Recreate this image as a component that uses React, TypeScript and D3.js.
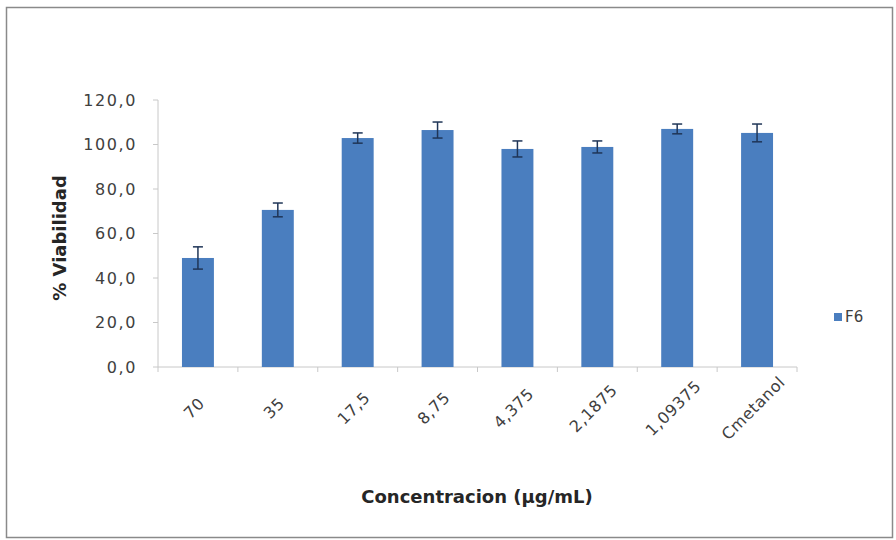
import React from "react";
import * as d3 from "d3";

const categories = ["70", "35", "17,5", "8,75", "4,375", "2,1875", "1,09375", "Cmetanol"];
const viability = [49.0, 70.6, 102.9, 106.5, 98.0, 98.9, 107.0, 105.2];
const errors = [5.0, 3.1, 2.3, 3.6, 3.6, 2.7, 2.2, 4.0];
const yTicks = [0, 20, 40, 60, 80, 100, 120];
const seriesName = "F6";

const W = 896;
const H = 540;
const plot = { left: 158, right: 797, top: 100, bottom: 367 };
const font = "'DejaVu Sans', 'Open Sans', sans-serif";
const barColor = "#4a7ebf";
const labelColor = "#404040";

export default function App() {
  const x = d3
    .scaleBand<string>()
    .domain(categories)
    .range([plot.left, plot.right])
    .paddingInner(0.6)
    .paddingOuter(0.3);
  const y = d3.scaleLinear().domain([0, 120]).range([plot.bottom, plot.top]);
  const fmt = (v: number) => v.toFixed(1).replace(".", ",");
  const step = x.step();

  return (
    <svg
      width={W}
      height={H}
      style={{ position: "absolute", left: 0, top: 0, background: "#fff" }}
      fontFamily={font}
    >
      <rect x={6.5} y={7.5} width={886} height={530} fill="#fff" stroke="#8a8a8a" strokeWidth={1.5} />

      {/* value axis */}
      <line x1={plot.left} x2={plot.left} y1={plot.top} y2={plot.bottom} stroke="#c8c8c8" />
      {yTicks.map((t) => (
        <g key={t}>
          <line x1={plot.left - 5} x2={plot.left} y1={y(t)} y2={y(t)} stroke="#c8c8c8" />
          <text
            x={plot.left - 21}
            y={y(t)}
            dy="0.36em"
            textAnchor="end"
            fontSize={16}
            letterSpacing={1.6}
            fill={labelColor}
          >
            {fmt(t)}
          </text>
        </g>
      ))}

      {/* category axis */}
      <line x1={plot.left} x2={plot.right} y1={plot.bottom} y2={plot.bottom} stroke="#c8c8c8" />
      {d3.range(categories.length + 1).map((i) => (
        <line
          key={i}
          x1={plot.left + i * step}
          x2={plot.left + i * step}
          y1={plot.bottom}
          y2={plot.bottom + 5}
          stroke="#c8c8c8"
        />
      ))}

      {/* bars */}
      {categories.map((c, i) => (
        <rect
          key={c}
          x={x(c)}
          y={y(viability[i])}
          width={x.bandwidth()}
          height={y(0) - y(viability[i])}
          fill={barColor}
        />
      ))}

      {/* error bars */}
      {categories.map((c, i) => {
        const cx = (x(c) as number) + x.bandwidth() / 2;
        const hi = y(viability[i] + errors[i]);
        const lo = y(viability[i] - errors[i]);
        return (
          <g key={c} stroke="#1f3557" strokeWidth={1.5}>
            <line x1={cx} x2={cx} y1={hi} y2={lo} />
            <line x1={cx - 5} x2={cx + 5} y1={hi} y2={hi} />
            <line x1={cx - 5} x2={cx + 5} y1={lo} y2={lo} />
          </g>
        );
      })}

      {/* category labels, rotated about their centres */}
      {categories.map((c) => {
        const cx = (x(c) as number) + x.bandwidth() / 2 - 4;
        const ty = plot.bottom + 41;
        return (
          <text
            key={c}
            x={cx}
            y={ty}
            transform={`rotate(-45 ${cx} ${ty})`}
            textAnchor="middle"
            dy="0.36em"
            fontSize={16}
            letterSpacing={0.6}
            fill={labelColor}
          >
            {c}
          </text>
        );
      })}

      {/* axis titles */}
      <text
        x={60}
        y={238}
        transform="rotate(-90 60 238)"
        textAnchor="middle"
        dy="0.36em"
        fontSize={18}
        fontWeight="bold"
        fill="#262626"
      >
        % Viabilidad
      </text>
      <text
        x={477}
        y={497}
        textAnchor="middle"
        dy="0.36em"
        fontSize={18}
        fontWeight="bold"
        fill="#262626"
      >
        Concentracion (µg/mL)
      </text>

      {/* legend */}
      <rect x={834} y={313} width={8} height={8} fill={barColor} />
      <text x={845} y={317} dy="0.36em" fontSize={15} fill={labelColor}>
        {seriesName}
      </text>
    </svg>
  );
}
